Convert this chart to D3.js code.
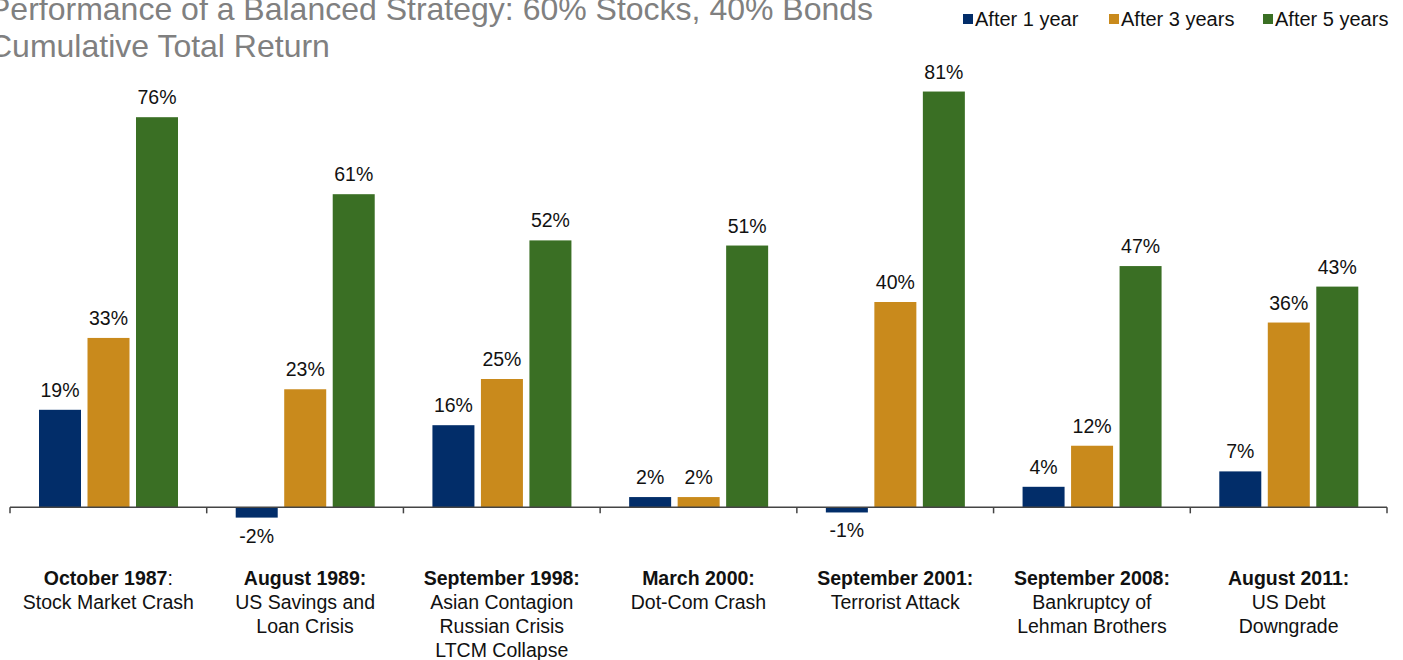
<!DOCTYPE html>
<html><head><meta charset="utf-8">
<script src="https://cdn.jsdelivr.net/npm/d3@7/dist/d3.min.js"></script>
<style>
body{margin:0;background:#fff;}
svg{display:block;font-family:"Liberation Sans",Arial,sans-serif;}
</style></head>
<body><svg id="c" width="1403" height="660"></svg>
<script>
const categories = ["October 1987","August 1989","September 1998","March 2000","September 2001","September 2008","August 2011"];
const categoryColon = [":", ":", ":", ":", ":", ":", ":"];
const categoryBoldColon = [false, true, true, true, true, true, true];
const categoryDesc = [
  ["Stock Market Crash"],
  ["US Savings and","Loan Crisis"],
  ["Asian Contagion","Russian Crisis","LTCM Collapse"],
  ["Dot-Com Crash"],
  ["Terrorist Attack"],
  ["Bankruptcy of","Lehman Brothers"],
  ["US Debt","Downgrade"]
];
const seriesNames = ["After 1 year","After 3 years","After 5 years"];
const seriesColors = ["#022d69","#c98a1c","#3a6f24"];
const after1 = [19, -2, 16, 2, -1, 4, 7];
const after3 = [33, 23, 25, 2, 40, 12, 36];
const after5 = [76, 61, 52, 51, 81, 47, 43];
const seriesValues = [after1, after3, after5];
const titleLines = ["Performance of a Balanced Strategy: 60% Stocks, 40% Bonds","Cumulative Total Return"];

const svg = d3.select("#c");
const x = d3.scaleBand().domain(categories).range([10, 1387]).padding(0);
const xs = d3.scaleBand().domain(seriesNames).range([29, 168]).paddingInner(0.134).paddingOuter(0);
const y = d3.scaleLinear().domain([-5, 85]).range([533, 71]);

// title
const t = svg.append("text").attr("fill","#808080").attr("font-size",32);
titleLines.forEach((l,i)=>t.append("tspan").attr("x",-11).attr("y",20+i*37).text(l));

// legend
const legX = [963, 1109, 1263];
seriesNames.forEach((s,i)=>{
  svg.append("rect").attr("x",legX[i]).attr("y",14).attr("width",10).attr("height",10).attr("fill",seriesColors[i]);
  svg.append("text").attr("x",legX[i]+12).attr("y",26).attr("font-size",20).attr("fill","#111").text(s);
});

// bars
categories.forEach((c,ci)=>{
  seriesNames.forEach((s,si)=>{
    const v = seriesValues[si][ci];
    const bx = x(c)+xs(s);
    svg.append("rect").attr("x",bx).attr("width",xs.bandwidth())
      .attr("y",y(Math.max(0,v))).attr("height",Math.abs(y(v)-y(0)))
      .attr("fill",seriesColors[si]);
    svg.append("text").attr("x",bx+xs.bandwidth()/2)
      .attr("y", v>=0 ? y(v)-13 : y(v)+25)
      .attr("text-anchor","middle").attr("font-size",19.5).attr("fill","#111")
      .text(v+"%");
  });
});

// axis
svg.append("line").attr("x1",10).attr("x2",1387).attr("y1",y(0)).attr("y2",y(0)).attr("stroke","#444").attr("stroke-width",1.5);
const tickPos = categories.map(c=>x(c)).concat([x.range()[1]]);
tickPos.forEach(p=>svg.append("line").attr("x1",p).attr("x2",p).attr("y1",y(0)).attr("y2",y(0)+6).attr("stroke","#444").attr("stroke-width",1.5));

// category labels
categories.forEach((c,ci)=>{
  const cx = x(c)+x.bandwidth()/2;
  const tt = svg.append("text").attr("x",cx).attr("y",585).attr("text-anchor","middle").attr("font-size",19.5).attr("fill","#111");
  tt.append("tspan").attr("font-weight","bold").text(c);
  tt.append("tspan").attr("font-weight",categoryBoldColon[ci]?"bold":"normal").text(categoryColon[ci]);
  categoryDesc[ci].forEach((l,li)=>{
    svg.append("text").attr("x",cx).attr("y",609+li*24).attr("text-anchor","middle").attr("font-size",19.5).attr("fill","#111").text(l);
  });
});
</script></body></html>
